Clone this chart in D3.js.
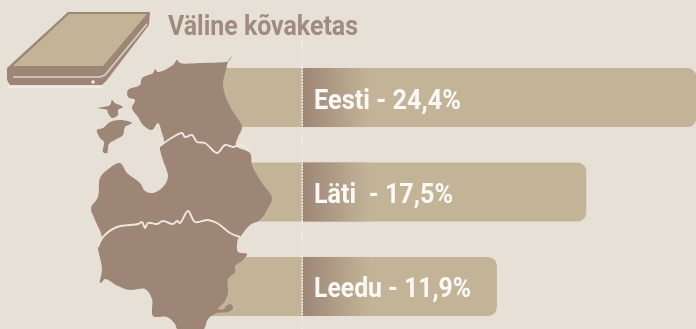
<!DOCTYPE html>
<html><head><meta charset="utf-8">
<script src="https://cdn.jsdelivr.net/npm/d3@7"></script>
<style>html,body{margin:0;padding:0;background:#e7e0d6;overflow:hidden}svg{display:block}text{font-family:"Roboto","Liberation Sans",sans-serif;font-weight:700;white-space:pre}</style>
</head><body><svg id="c" width="696" height="329"></svg>
<script>
const titleText = "Väline kõvaketas";
const countries = ["Eesti", "Läti", "Leedu"];
const shares = [24.4, 17.5, 11.9];
const labels = ["Eesti - 24,4%", "Läti  - 17,5%", "Leedu - 11,9%"];
const labelWidths = [147, 139, 157];

const mainland = [[232,56],[229,61],[225,62],[200,63],[180,63],[177,60],[173,65],[158,72],[155,69],[153,73],[142,78],[140,85],[128,90],[128,97],[135,100],[132,108],[138,117],[143,125],[152,130],[158,123],[162,133],[164,142],[160,147],[163,160],[168,177],[163,187],[153,193],[145,191],[140,183],[127,173],[120,163],[107,170],[100,178],[98,197],[91,208],[95,220],[102,238],[98,246],[98,249],[102,269],[100,283],[102,282],[105,279],[118,286],[130,290],[145,289],[152,299],[153,316],[167,317],[175,324],[178,330],[203,330],[208,319],[217,313],[228,312],[233,308],[231,304],[226,306],[224,309],[218,309],[225,301],[228,292],[228,279],[235,272],[235,266],[242,261],[247,254],[238,252],[238,239],[240,237],[250,225],[260,220],[268,208],[272,198],[262,183],[257,175],[252,165],[250,153],[236,146],[238,137],[242,127],[232,110],[225,95],[223,83],[226,70],[228,62]];
const saaremaa = [[97,130],[103,128],[110,122],[120,120],[132,123],[125,127],[123,135],[115,140],[109,144],[107,153],[103,152],[104,142],[100,138]];
const hiiumaa = [[98,108],[110,105],[112,100],[115,103],[123,107],[118,110],[118,115],[112,118],[108,113],[107,110]];
const borderNorth = [[160,146],[173,137],[182,133],[185,137],[192,135],[197,142],[205,143],[217,153],[225,145],[233,147],[242,145],[250,152]];
const borderSouth = [[98,247],[103,237],[117,227],[138,224],[142,222],[145,228],[148,223],[157,224],[163,221],[173,224],[177,221],[180,223],[188,211],[195,222],[208,220],[217,223],[230,233],[240,237]];
const diskBody = [[68,12],[150,12],[149,25],[107,80],[102,85],[10,85],[7,80],[7,68]];
const diskTop = [[69,14],[147,14],[103,66],[13,66]];
const diskSlot = [[13,77],[100,77],[105,75],[147,24]];
const diskShadow = [[8,87],[102,87]];

const bg = "#e7e0d6", tan = "#c3b498", brown = "#9e8677";
const svg = d3.select("#c");
const defs = svg.append("defs");
defs.append("filter").attr("id","soft").append("feGaussianBlur").attr("stdDeviation",0.6);
const g = defs.append("linearGradient").attr("id","fade");
g.append("stop").attr("offset","0%").attr("stop-color",brown);
g.append("stop").attr("offset","100%").attr("stop-color",tan);

const root = svg.append("g").attr("filter","url(#soft)");
const x = d3.scaleLinear().domain([0,25]).range([307,706]);
const y = d3.scaleBand().domain(countries).range([68,316]).paddingInner(0.375);
const baseX = 303, hiddenX = 190, fadeEnd = 370;
const line = d3.line();
const closed = p => line(p) + "Z";
const smooth = d3.line().curve(d3.curveCatmullRomClosed.alpha(0.5));
const smoothOpen = d3.line().curve(d3.curveCatmullRom.alpha(0.5));

// bars
root.selectAll("rect.bar").data(countries).join("rect").attr("class","bar")
  .attr("x",hiddenX).attr("y",d=>y(d)).attr("height",y.bandwidth())
  .attr("width",(d,i)=>x(shares[i])-hiddenX).attr("rx",9).attr("fill",tan);
root.selectAll("rect.fade").data(countries).join("rect").attr("class","fade")
  .attr("x",baseX).attr("y",d=>y(d)).attr("height",y.bandwidth())
  .attr("width",fadeEnd-baseX).attr("fill","url(#fade)");

// dashed divider
root.append("line").attr("x1",baseX-0.8).attr("x2",baseX-0.8).attr("y1",40).attr("y2",329)
  .attr("stroke","#f3efe8").attr("stroke-width",1.4).attr("stroke-dasharray","2 1");

// map
[mainland,saaremaa,hiiumaa].forEach(p=>root.append("path").attr("d",smooth(p)).attr("fill",brown));
[borderNorth,borderSouth].forEach(p=>root.append("path").attr("d",smoothOpen(p)).attr("fill","none")
  .attr("stroke","#eee8df").attr("stroke-width",1.9).attr("stroke-linejoin","round"));

// disk icon
root.append("path").attr("d",line(diskShadow)).attr("stroke","#f3efe8").attr("stroke-width",1.5).attr("fill","none");
root.append("path").attr("d",closed(diskBody)).attr("fill",brown);
root.append("path").attr("d",closed(diskTop)).attr("fill",tan);
root.append("path").attr("d",line(diskSlot)).attr("fill","none").attr("stroke","#d9d0c4").attr("stroke-width",1.6);
root.append("circle").attr("cx",93).attr("cy",82).attr("r",1.7).attr("fill","#f6f2ec");

// text
root.append("text").attr("x",168).attr("y",35).attr("font-size",27).attr("fill","#a08c7e")
  .attr("textLength",190).attr("lengthAdjust","spacingAndGlyphs").text(titleText);
root.selectAll("text.lab").data(labels).join("text").attr("class","lab")
  .attr("x",314).attr("y",(d,i)=>y(countries[i])+40.5).attr("font-size",27).attr("fill","#fbf9f5")
  .attr("textLength",(d,i)=>labelWidths[i]).attr("lengthAdjust","spacingAndGlyphs").text(d=>d);
</script></body></html>
